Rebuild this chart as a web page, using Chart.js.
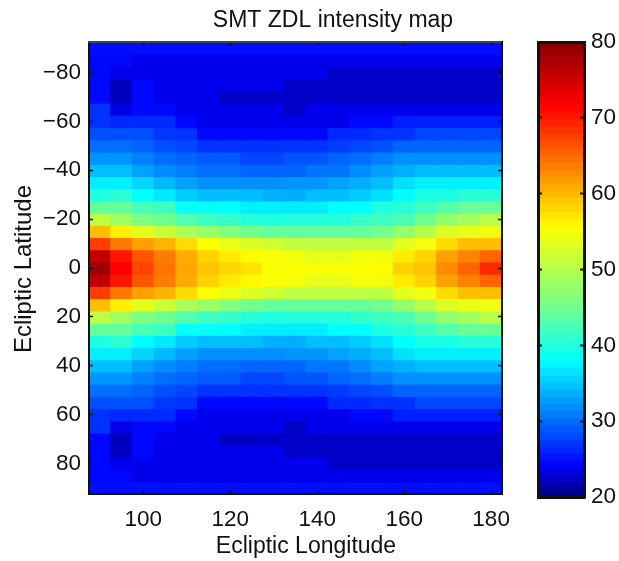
<!DOCTYPE html>
<html lang="en">

<head>
  <meta charset="UTF-8" />
  <title>SMT ZDL intensity map</title>
  <script src="https://cdn.jsdelivr.net/npm/chart.js"></script>
  <style>
    html, body { margin: 0; padding: 0; background: #fff; overflow: hidden; }
    canvas { position: absolute; top: 0; }
    #mapa { left: 0; }
    #barra { left: 520px; }
  </style>
</head>

<body>
  <canvas id="mapa" width="519" height="561"></canvas>
  <canvas id="barra" width="99" height="561"></canvas>

  <script>
    const longitudes = [90, 95, 100, 105, 110, 115, 120, 125, 130, 135, 140, 145, 150, 155, 160, 165, 170, 175, 180];
    const latitudes = [-90, -85, -80, -75, -70, -65, -60, -55, -50, -45, -40, -35, -30, -25, -20, -15, -10, -5, 0,
      5, 10, 15, 20, 25, 30, 35, 40, 45, 50, 55, 60, 65, 70, 75, 80, 85, 90];
    const latTicks = [-80, -60, -40, -20, 0, 20, 40, 60, 80];
    const lonTicks = [100, 120, 140, 160, 180];
    const barTicks = [20, 30, 40, 50, 60, 70, 80];

    // uma linha por latitude, uma coluna por longitude
    const intensidade = [
      [24.3, 24.3, 24.3, 24.3, 24.3, 24.3, 24.3, 24.3, 24.3, 24.3, 24.3, 24.3, 24.3, 24.3, 24.3, 24.3, 24.3, 24.3, 24.3],
      [24, 24, 23, 23, 23, 23, 23, 23, 23, 23, 23, 23, 23, 23, 23, 23, 23, 23, 23],
      [24, 23, 23, 23, 23, 23, 23, 23, 23, 23, 23, 21.8, 21.8, 21.8, 21.8, 21.8, 21.8, 21.8, 21.8],
      [24, 21.5, 24, 23, 23, 23, 23, 23, 23, 21.8, 21.8, 21.8, 21.8, 21.8, 21.8, 21.8, 21.8, 21.8, 21.8],
      [24, 21.5, 24, 23, 23, 23, 21.8, 21.8, 21.8, 21.8, 21.8, 21.8, 21.8, 21.8, 21.8, 21.8, 21.8, 21.8, 21.8],
      [26.3, 22.8, 24, 24, 23, 23, 23, 23, 23, 21.8, 23, 23, 23, 23, 23, 23, 23, 23, 23],
      [26.3, 25.8, 25.8, 25.8, 24, 23, 23, 23, 23, 23, 23, 23, 24, 24, 25.3, 25.3, 25.3, 25.3, 25.3],
      [27.9, 27.9, 27.9, 26.6, 26.3, 24, 24, 24, 24, 24, 24, 25.8, 25.8, 26.3, 26.3, 27.4, 27.4, 27.4, 27.4],
      [29.6, 29.6, 29, 27.9, 27.4, 26.3, 26.3, 26.3, 26.3, 26.3, 26.3, 26.8, 27.4, 27.9, 29, 29, 29, 29, 29],
      [31.7, 31.7, 30.6, 29.6, 29, 28.5, 28.5, 27.4, 27.4, 28.2, 28.2, 29, 29.6, 30.4, 31.4, 31.4, 31.4, 31.4, 31.4],
      [33.9, 33.9, 32.3, 31.2, 30.4, 29.6, 29.6, 29, 29, 29, 30, 30, 31.2, 32.3, 33.1, 33.9, 33.9, 33.9, 33.9],
      [36.6, 36.6, 35.2, 33.6, 32.3, 31.4, 31.4, 31.4, 31.4, 31.7, 31.7, 32.5, 33, 33.9, 35.8, 36.6, 36.6, 36.6, 36.6],
      [39.3, 40.2, 37.4, 36.3, 34.7, 33.9, 33.9, 33.9, 33.1, 33, 33.9, 33.9, 34.7, 35.8, 37.4, 39, 39, 39.9, 39.9],
      [43.7, 43.7, 41.9, 41.3, 37.8, 37.8, 37.4, 36.6, 36.6, 36.5, 36.5, 37.4, 37.4, 39.3, 40, 41.5, 42.8, 44, 44],
      [50.1, 47.9, 45.3, 44.4, 42.5, 41.3, 40.7, 39.6, 39.3, 39.6, 39.6, 39.6, 40.7, 41.3, 42.1, 44.4, 47, 48.1, 49.6],
      [59, 56, 53, 50.9, 48.5, 47.4, 45.6, 44.7, 43.7, 43.7, 43.7, 43.7, 43.7, 44.7, 46.8, 49.6, 52.4, 53.4, 53.9],
      [67.2, 63.5, 61, 59.7, 57.2, 55, 53.5, 52.4, 51.3, 50.2, 50.2, 50.2, 50.2, 50.2, 52.8, 54.2, 57.2, 59, 59],
      [75.3, 69.7, 65.7, 63.2, 60.3, 57.8, 56.2, 55.3, 54.6, 54.2, 53.1, 53.1, 54.2, 54.2, 56.2, 57.8, 61, 62.8, 64.7],
      [77.8, 71, 66.6, 63.8, 60.6, 58.7, 57.5, 56.6, 54.7, 54.6, 54.6, 54.6, 54.6, 55.2, 57.8, 58.7, 62.2, 64.7, 68.5],
      [75.3, 69.7, 65.7, 63.2, 60.3, 57.8, 56.2, 55.3, 54.6, 54.2, 53.1, 53.1, 54.2, 54.2, 56.2, 57.8, 61, 62.8, 64.7],
      [67.2, 63.5, 61, 59.7, 57.2, 55, 53.5, 52.4, 51.3, 50.2, 50.2, 50.2, 50.2, 50.2, 52.8, 54.2, 57.2, 59, 59],
      [59, 56, 53, 50.9, 48.5, 47.4, 45.6, 44.7, 43.7, 43.7, 43.7, 43.7, 43.7, 44.7, 46.8, 49.6, 52.4, 53.4, 53.9],
      [50.1, 47.9, 45.3, 44.4, 42.5, 41.3, 40.7, 39.6, 39.3, 39.6, 39.6, 39.6, 40.7, 41.3, 42.1, 44.4, 47, 48.1, 49.6],
      [43.7, 43.7, 41.9, 41.3, 37.8, 37.8, 37.4, 36.6, 36.6, 36.5, 36.5, 37.4, 37.4, 39.3, 40, 41.5, 42.8, 44, 44],
      [39.3, 40.2, 37.4, 36.3, 34.7, 33.9, 33.9, 33.9, 33.1, 33, 33.9, 33.9, 34.7, 35.8, 37.4, 39, 39, 39.9, 39.9],
      [36.6, 36.6, 35.2, 33.6, 32.3, 31.4, 31.4, 31.4, 31.4, 31.7, 31.7, 32.5, 33, 33.9, 35.8, 36.6, 36.6, 36.6, 36.6],
      [33.9, 33.9, 32.3, 31.2, 30.4, 29.6, 29.6, 29, 29, 29, 30, 30, 31.2, 32.3, 33.1, 33.9, 33.9, 33.9, 33.9],
      [31.7, 31.7, 30.6, 29.6, 29, 28.5, 28.5, 27.4, 27.4, 28.2, 28.2, 29, 29.6, 30.4, 31.4, 31.4, 31.4, 31.4, 31.4],
      [29.6, 29.6, 29, 27.9, 27.4, 26.3, 26.3, 26.3, 26.3, 26.3, 26.3, 26.8, 27.4, 27.9, 29, 29, 29, 29, 29],
      [27.9, 27.9, 27.9, 26.6, 26.3, 24, 24, 24, 24, 24, 24, 25.8, 25.8, 26.3, 26.3, 27.4, 27.4, 27.4, 27.4],
      [26.3, 25.8, 25.8, 25.8, 24, 23, 23, 23, 23, 23, 23, 23, 24, 24, 25.3, 25.3, 25.3, 25.3, 25.3],
      [26.3, 22.8, 24, 24, 23, 23, 23, 23, 23, 21.8, 23, 23, 23, 23, 23, 23, 23, 23, 23],
      [24, 21.5, 24, 23, 23, 23, 21.8, 21.8, 21.8, 21.8, 21.8, 21.8, 21.8, 21.8, 21.8, 21.8, 21.8, 21.8, 21.8],
      [24, 21.5, 24, 23, 23, 23, 23, 23, 23, 21.8, 21.8, 21.8, 21.8, 21.8, 21.8, 21.8, 21.8, 21.8, 21.8],
      [24, 23, 23, 23, 23, 23, 23, 23, 23, 23, 23, 21.8, 21.8, 21.8, 21.8, 21.8, 21.8, 21.8, 21.8],
      [24, 24, 23, 23, 23, 23, 23, 23, 23, 23, 23, 23, 23, 23, 23, 23, 23, 23, 23],
      [24.3, 24.3, 24.3, 24.3, 24.3, 24.3, 24.3, 24.3, 24.3, 24.3, 24.3, 24.3, 24.3, 24.3, 24.3, 24.3, 24.3, 24.3, 24.3]
    ];

    // faixas da barra de cores, lidas de baixo para cima
    const niveisBarra = [20, 20.9, 21.9, 22.8, 23.8, 24.7, 25.6, 26.6, 27.5, 28.4, 29.4, 30.3, 31.3, 32.2, 33.1, 34.1,
      35, 35.9, 36.9, 37.8, 38.8, 39.7, 40.6, 41.6, 42.5, 43.4, 44.4, 45.3, 46.3, 47.2, 48.1, 49.1,
      50, 50.9, 51.9, 52.8, 53.8, 54.7, 55.6, 56.6, 57.5, 58.4, 59.4, 60.3, 61.3, 62.2, 63.1, 64.1,
      65, 65.9, 66.9, 67.8, 68.8, 69.7, 70.6, 71.6, 72.5, 73.4, 74.4, 75.3, 76.3, 77.2, 78.1, 79.1];

    const paletaValores = [20, 23.6, 37.4, 45.5, 55, 71, 80];
    const paletaCores = [[0, 0, 143], [0, 0, 255], [0, 255, 255], [128, 255, 128], [255, 255, 0], [255, 0, 0], [128, 0, 0]];

    function corDoValor(v) {
      let i = 0;
      while (i < paletaValores.length - 2 && v > paletaValores[i + 1]) i++;
      const t = Math.min(1, Math.max(0, (v - paletaValores[i]) / (paletaValores[i + 1] - paletaValores[i])));
      const c = paletaCores[i].map((a, k) => Math.round(a + (paletaCores[i + 1][k] - a) * t));
      return `rgb(${c[0]}, ${c[1]}, ${c[2]})`;
    }

    const familia = '"Liberation Sans", Arial, sans-serif';
    const fonte = { family: familia, size: 22.5 };
    const corTexto = '#111';

    // eixo só com as marquinhas para dentro, sem rótulos (lados de cima e direita)
    function eixoMarcas(pos, min, max, ticks, espessura) {
      return {
        type: 'linear',
        position: pos,
        min,
        max,
        offset: false,
        afterBuildTicks: s => { s.ticks = ticks.map(v => ({ value: v })); },
        afterFit: s => {
          if (s.isHorizontal()) s.height = espessura; else s.width = espessura;
          // o rótulo 180 passa da borda no original, não reserva espaço para ele
          s.paddingLeft = s.paddingRight = s.paddingTop = s.paddingBottom = 0;
        },
        grid: { offset: false, drawOnChartArea: false, tickLength: -4, tickWidth: 1.5, tickColor: '#111', z: 2 },
        border: { display: true, color: '#111', width: 2, z: 3 },
        ticks: { display: false }
      };
    }

    // Escreve os títulos na posição exata em que estão no original
    const textosMapa = {
      id: 'textosMapa',
      afterDraw(chart) {
        const { ctx } = chart;
        ctx.save();
        ctx.fillStyle = corTexto;
        ctx.font = `23px ${familia}`;
        ctx.textAlign = 'center';
        ctx.textBaseline = 'alphabetic';
        ctx.fillText('SMT ZDL intensity map', 333, 27);
        ctx.fillText('Ecliptic Longitude', 306, 553);
        ctx.font = `24px ${familia}`;
        ctx.translate(31, 269);
        ctx.rotate(-Math.PI / 2);
        ctx.fillText('Ecliptic Latitude', 0, 0);
        ctx.restore();
      }
    };

    const datasetsMapa = latitudes.map((lat, i) => ({
      label: `lat ${lat}`,
      data: longitudes.map(lon => ({ x: lon, y: [lat - 2.5, lat + 2.5] })),
      backgroundColor: intensidade[i].map(corDoValor),
      borderWidth: 0,
      inflateAmount: 0.6,
      barPercentage: 1,
      categoryPercentage: 1,
      grouped: false
    }));

    const eixoX = eixoMarcas('bottom', 87.5, 182.5, lonTicks, 67);
    eixoX.ticks = { display: true, color: corTexto, font: fonte, maxRotation: 0, padding: 16, callback: v => String(v) };
    const eixoY = eixoMarcas('left', -92.5, 92.5, latTicks, 89);
    eixoY.reverse = true;
    eixoY.ticks = { display: true, color: corTexto, font: fonte, padding: 12, callback: v => String(v).replace('-', '\u2212') };
    const eixoTopo = eixoMarcas('top', 87.5, 182.5, lonTicks, 0);
    eixoTopo.border.color = '#444';
    const eixoDir = eixoMarcas('right', -92.5, 92.5, latTicks, 0);
    eixoDir.reverse = true;

    new Chart(document.getElementById('mapa'), {
      type: 'bar',
      data: { datasets: datasetsMapa },
      options: {
        responsive: false,
        animation: false,
        layout: { padding: { top: 42, right: 17, left: 0, bottom: 0 } },
        plugins: { legend: { display: false }, title: { display: false }, tooltip: { enabled: false } },
        scales: { x: eixoX, y: eixoY, xTopo: eixoTopo, yDir: eixoDir }
      },
      plugins: [textosMapa]
    });

    const eixoBarra = eixoMarcas('right', 20, 80, barTicks, 35);
    eixoBarra.ticks = { display: true, color: corTexto, font: fonte, padding: 11, callback: v => String(v) };
    eixoBarra.grid.tickWidth = 2;
    eixoBarra.border.width = 3;
    const eixoBarraEsq = eixoMarcas('left', 20, 80, barTicks, 0);
    eixoBarraEsq.grid.tickWidth = 2;
    eixoBarraEsq.border.width = 3;
    const bordaBaixo = eixoMarcas('bottom', 0, 1, [], 0);
    bordaBaixo.border.width = 3;
    const bordaCima = eixoMarcas('top', 0, 1, [], 0);
    bordaCima.border.width = 3;

    new Chart(document.getElementById('barra'), {
      type: 'bar',
      data: {
        labels: ['cor'],
        datasets: niveisBarra.map((n, i) => ({
          label: `nivel ${n}`,
          data: [[n, i + 1 < niveisBarra.length ? niveisBarra[i + 1] : 80]],
          backgroundColor: corDoValor(n),
          borderWidth: 0,
          inflateAmount: 0.5,
          barPercentage: 1,
          categoryPercentage: 1,
          grouped: false
        }))
      },
      options: {
        responsive: false,
        animation: false,
        layout: { padding: { top: 42, right: 0, left: 18, bottom: 64 } },
        plugins: { legend: { display: false }, title: { display: false }, tooltip: { enabled: false } },
        scales: {
          x: { display: false },
          y: eixoBarra,
          yEsq: eixoBarraEsq,
          xBaixo: bordaBaixo,
          xCima: bordaCima
        }
      }
    });
  </script>
</body>

</html>
